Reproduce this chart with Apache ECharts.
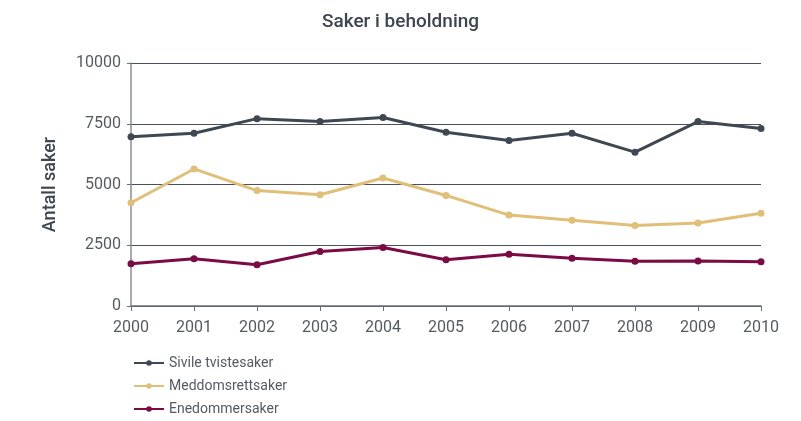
<!DOCTYPE html>
<html>
<head>
<meta charset="utf-8">
<script src="https://cdn.jsdelivr.net/npm/echarts@6/dist/echarts.min.js"></script>
<style>
  html, body { margin: 0; padding: 0; background: #fff; }
  #chart { width: 801px; height: 421px; }
</style>
</head>
<body>
<div id="chart"></div>
<script>
const years = ['2000', '2001', '2002', '2003', '2004', '2005', '2006', '2007', '2008', '2009', '2010'];
const sivile = [6960, 7110, 7710, 7590, 7760, 7150, 6810, 7110, 6330, 7590, 7300];
const meddom = [4250, 5640, 4750, 4580, 5270, 4550, 3740, 3530, 3310, 3420, 3820];
const enedom = [1740, 1940, 1700, 2240, 2410, 1900, 2130, 1970, 1840, 1850, 1820];

const chart = echarts.init(document.getElementById('chart'));
const font = 'Roboto, "DejaVu Sans", sans-serif';

function line(name, data, color) {
  return {
    name: name,
    type: 'line',
    data: data,
    symbol: 'circle',
    symbolSize: 7,
    lineStyle: { width: 3, color: color },
    itemStyle: { color: color },
    emphasis: { disabled: true }
  };
}

chart.setOption({
  animation: false,
  textStyle: { fontFamily: font },
  title: {
    text: 'Saker i beholdning',
    left: 'center',
    top: 8,
    textStyle: { fontFamily: font, fontSize: 19, fontWeight: 500, color: '#3d4550' }
  },
  legend: {
    orient: 'vertical',
    left: 133,
    top: 355,
    height: 90,
    padding: 0,
    itemGap: 7,
    itemWidth: 30,
    itemHeight: 7,
    textStyle: { fontFamily: font, fontSize: 14, color: '#555b63', lineHeight: 16 },
    data: ['Sivile tvistesaker', 'Meddomsrettsaker', 'Enedommersaker']
  },
  grid: { left: 131, right: 40, top: 63, bottom: 115 },
  xAxis: {
    type: 'category',
    data: years,
    boundaryGap: false,
    axisLine: { lineStyle: { color: '#6b7078', width: 1.5 } },
    axisTick: { show: true, length: 5, lineStyle: { color: '#6b7078' } },
    axisLabel: { fontFamily: font, fontSize: 16, color: '#555b63', margin: 14 }
  },
  yAxis: {
    type: 'value',
    min: 0,
    max: 10000,
    interval: 2500,
    name: 'Antall saker',
    nameLocation: 'middle',
    nameGap: 72,
    nameTextStyle: { fontFamily: font, fontSize: 18, fontWeight: 500, color: '#3d4550' },
    axisLine: { show: true, lineStyle: { color: '#8a8f96', width: 1.5 } },
    axisTick: { show: true, length: 4, lineStyle: { color: '#6b7078' } },
    axisLabel: { fontFamily: font, fontSize: 16, color: '#555b63', margin: 10, formatter: v => String(v) },
    splitLine: { lineStyle: { color: '#4a5059', width: 1.2 } }
  },
  series: [
    line('Sivile tvistesaker', sivile, '#3f4852'),
    line('Meddomsrettsaker', meddom, '#e0bf78'),
    line('Enedommersaker', enedom, '#7b0a45')
  ]
});
</script>
</body>
</html>
